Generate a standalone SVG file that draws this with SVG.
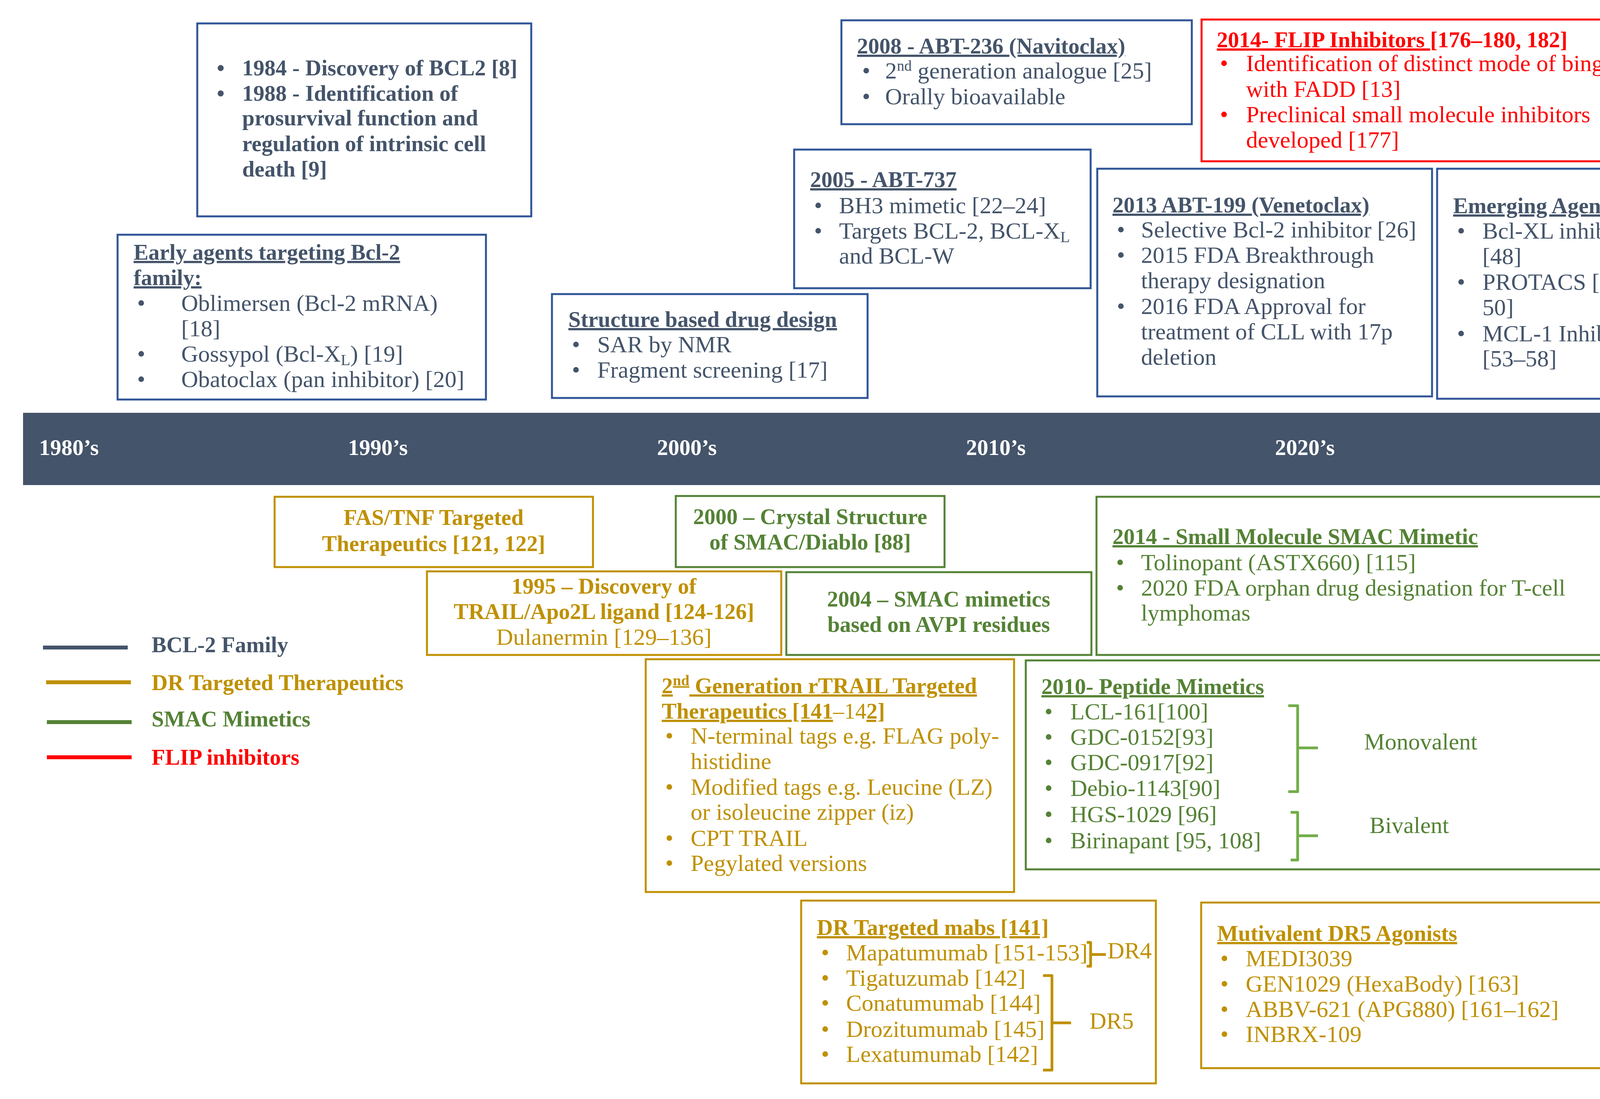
<svg xmlns="http://www.w3.org/2000/svg" width="4477" height="2814" viewBox="0 0 4477 2814">
<style>
text{font-family:"Liberation Serif","Times New Roman",serif;}
.b{font-weight:bold;font-size:57px;}
.r{font-weight:normal;font-size:60px;}
.u{text-decoration:underline;}
.blue{fill:#44546A;}
.gold{fill:#BF9000;}
.green{fill:#548235;}
.red{fill:#FF0000;}
.white{fill:#FFFFFF;}
.c{text-anchor:middle;}
.bx{fill:#FFFFFF;stroke-width:5;}
.bb{stroke:#2F5597;}
.bg{stroke:#BF9000;}
.bgr{stroke:#548235;}
.br{stroke:#FF0000;}
.brk{fill:none;stroke-width:7;stroke-linejoin:round;}
.leg{stroke-width:10;}
</style>
<rect x="0" y="0" width="4477" height="2814" fill="#FFFFFF"/>

<g id="box-1984">
<rect class="bx bb" x="505" y="60" width="855" height="494"/>
<g class="b blue">
<text x="555" y="193">•</text><text x="620" y="193">1984 - Discovery of BCL2 [8]</text>
<text x="555" y="258">•</text><text x="620" y="258">1988 - Identification of</text>
<text x="620" y="321">prosurvival function and</text>
<text x="620" y="387">regulation of intrinsic cell</text>
<text x="620" y="452">death [9]</text>
</g>
</g>

<g id="box-early">
<rect class="bx bb" x="301" y="601" width="943" height="422"/>
<text class="b blue u" x="342" y="665">Early agents targeting Bcl-2</text>
<text class="b blue u" x="342" y="730">family:</text>
<g class="r blue">
<text x="351" y="796">•</text><text x="464" y="796">Oblimersen (Bcl-2 mRNA)</text>
<text x="464" y="861">[18]</text>
<text x="351" y="926">•</text><text x="464" y="926">Gossypol (Bcl-X<tspan dy="9" font-size="40">L</tspan><tspan dy="-9">) [19]</tspan></text>
<text x="351" y="991">•</text><text x="464" y="991">Obatoclax (pan inhibitor) [20]</text>
</g>
</g>

<g id="box-structure">
<rect class="bx bb" x="1413" y="753" width="808" height="266"/>
<text class="b blue u" x="1455" y="837">Structure based drug design</text>
<g class="r blue">
<text x="1464" y="902">•</text><text x="1529" y="902">SAR by NMR</text>
<text x="1464" y="967">•</text><text x="1529" y="967">Fragment screening [17]</text>
</g>
</g>

<g id="box-2005">
<rect class="bx bb" x="2033" y="383" width="759" height="355"/>
<text class="b blue u" x="2074" y="479">2005 - ABT-737</text>
<g class="r blue">
<text x="2084" y="546">•</text><text x="2148" y="546">BH3 mimetic [22–24]</text>
<text x="2084" y="611">•</text><text x="2148" y="611">Targets BCL-2, BCL-X<tspan dy="9" font-size="40">L</tspan></text>
<text x="2148" y="675">and BCL-W</text>
</g>
</g>

<g id="box-2008">
<rect class="bx bb" x="2154" y="52" width="897" height="266"/>
<text class="b blue u" x="2194" y="137">2008 - ABT-236 (Navitoclax)</text>
<g class="r blue">
<text x="2207" y="201">•</text><text x="2266" y="201">2<tspan dy="-20" font-size="38">nd</tspan><tspan dy="20"> generation analogue [25]</tspan></text>
<text x="2207" y="267">•</text><text x="2266" y="267">Orally bioavailable</text>
</g>
</g>

<g id="box-flip">
<rect class="bx br" x="3076" y="50" width="1179" height="363"/>
<text class="b red" x="3115" y="121"><tspan class="u">2014- FLIP Inhibitors </tspan> [176–180, 182]</text>
<g class="r red">
<text x="3123" y="182">•</text><text x="3190" y="182">Identification of distinct mode of binging</text>
<text x="3190" y="248">with FADD [13]</text>
<text x="3123" y="313">•</text><text x="3190" y="313">Preclinical small molecule inhibitors</text>
<text x="3190" y="378">developed [177]</text>
</g>
</g>

<g id="box-2013">
<rect class="bx bb" x="2809" y="432" width="857" height="583"/>
<text class="b blue u" x="2848" y="544">2013 ABT-199 (Venetoclax)</text>
<g class="r blue">
<text x="2859" y="608">•</text><text x="2921" y="608">Selective Bcl-2 inhibitor [26]</text>
<text x="2859" y="673">•</text><text x="2921" y="673">2015 FDA Breakthrough</text>
<text x="2921" y="738">therapy designation</text>
<text x="2859" y="804">•</text><text x="2921" y="804">2016 FDA Approval for</text>
<text x="2921" y="869">treatment of CLL with 17p</text>
<text x="2921" y="934">deletion</text>
</g>
</g>

<g id="box-emerging">
<rect class="bx bb" x="3679" y="432" width="576" height="589"/>
<text class="b blue u" x="3720" y="546">Emerging Agents</text>
<g class="r blue">
<text x="3730" y="611">•</text><text x="3795" y="611">Bcl-XL inhibitors</text>
<text x="3795" y="676">[48]</text>
<text x="3730" y="742">•</text><text x="3795" y="742">PROTACS [49-</text>
<text x="3795" y="807">50]</text>
<text x="3730" y="874">•</text><text x="3795" y="874">MCL-1 Inhibitors</text>
<text x="3795" y="938">[53–58]</text>
</g>
</g>

<g id="timeline">
<polygon points="59,1057 4231,1057 4231,964 4440,1150 4231,1333 4231,1242 59,1242" fill="#44546A"/>
<g class="b white" font-size="56">
<text x="100" y="1165">1980’s</text>
<text x="891" y="1165">1990’s</text>
<text x="1682" y="1165">2000’s</text>
<text x="2473" y="1165">2010’s</text>
<text x="3264" y="1165">2020’s</text>
</g>
</g>

<g id="box-fas">
<rect class="bx bg" x="703" y="1272" width="815" height="180"/>
<text class="b gold c" x="1110" y="1344">FAS/TNF Targeted</text>
<text class="b gold c" x="1110" y="1411">Therapeutics [121, 122]</text>
</g>

<g id="box-1995">
<rect class="bx bg" x="1093" y="1463" width="907" height="214"/>
<text class="b gold c" x="1546" y="1520">1995 – Discovery of</text>
<text class="b gold c" x="1546" y="1585">TRAIL/Apo2L ligand [124-126]</text>
<text class="r gold c" x="1546" y="1651">Dulanermin [129–136]</text>
</g>

<g id="box-2000">
<rect class="bx bgr" x="1730" y="1270" width="688" height="182"/>
<text class="b green c" x="2074" y="1342">2000 – Crystal Structure</text>
<text class="b green c" x="2074" y="1407">of SMAC/Diablo [88]</text>
</g>

<g id="box-2004">
<rect class="bx bgr" x="2013" y="1465" width="781" height="212"/>
<text class="b green c" x="2403" y="1553">2004 – SMAC mimetics</text>
<text class="b green c" x="2403" y="1618">based on AVPI residues</text>
</g>

<g id="box-smac2014">
<rect class="bx bgr" x="2807" y="1272" width="1379" height="405"/>
<text class="b green u" x="2848" y="1393">2014 - Small Molecule SMAC Mimetic</text>
<g class="r green">
<text x="2857" y="1460">•</text><text x="2921" y="1460">Tolinopant (ASTX660) [115]</text>
<text x="2857" y="1525">•</text><text x="2921" y="1525">2020 FDA orphan drug designation for T-cell</text>
<text x="2921" y="1589">lymphomas</text>
</g>
</g>

<g id="box-peptide">
<rect class="bx bgr" x="2626" y="1691" width="1560" height="535"/>
<text class="b green u" x="2666" y="1777">2010- Peptide Mimetics</text>
<g class="r green">
<text x="2674" y="1842">•</text><text x="2740" y="1842">LCL-161[100]</text>
<text x="2674" y="1907">•</text><text x="2740" y="1907">GDC-0152[93]</text>
<text x="2674" y="1972">•</text><text x="2740" y="1972">GDC-0917[92]</text>
<text x="2674" y="2038">•</text><text x="2740" y="2038">Debio-1143[90]</text>
<text x="2674" y="2105">•</text><text x="2740" y="2105">HGS-1029 [96]</text>
<text x="2674" y="2172">•</text><text x="2740" y="2172">Birinapant [95, 108]</text>
<text x="3492" y="1919">Monovalent</text>
<text x="3506" y="2133">Bivalent</text>
</g>
</g>

<g id="box-rtrail">
<rect class="bx bg" x="1653" y="1688" width="943" height="596"/>
<text class="b gold u" x="1694" y="1775">2<tspan dy="-20" font-size="38">nd</tspan><tspan dy="20"> Generation rTRAIL Targeted</tspan></text>
<text class="b gold" x="1694" y="1840"><tspan class="u">Therapeutics [141</tspan><tspan font-weight="normal">–14</tspan><tspan class="u">2]</tspan></text>
<g class="r gold">
<text x="1703" y="1904">•</text><text x="1768" y="1904">N-terminal tags e.g. FLAG poly-</text>
<text x="1768" y="1969">histidine</text>
<text x="1703" y="2035">•</text><text x="1768" y="2035">Modified tags e.g. Leucine (LZ)</text>
<text x="1768" y="2099">or isoleucine zipper (iz)</text>
<text x="1703" y="2166">•</text><text x="1768" y="2166">CPT TRAIL</text>
<text x="1703" y="2230">•</text><text x="1768" y="2230">Pegylated versions</text>
</g>
</g>

<g id="box-mabs">
<rect class="bx bg" x="2051" y="2306" width="908" height="468"/>
<text class="b gold u" x="2091" y="2394">DR Targeted mabs [141]</text>
<g class="r gold">
<text x="2102" y="2459">•</text><text x="2166" y="2459">Mapatumumab [151-153]</text>
<text x="2102" y="2524">•</text><text x="2166" y="2524">Tigatuzumab [142]</text>
<text x="2102" y="2588">•</text><text x="2166" y="2588">Conatumumab [144]</text>
<text x="2102" y="2655">•</text><text x="2166" y="2655">Drozitumumab [145]</text>
<text x="2102" y="2719">•</text><text x="2166" y="2719">Lexatumumab [142]</text>
<text x="2835" y="2454">DR4</text>
<text x="2789" y="2634">DR5</text>
</g>
</g>

<g id="box-multivalent">
<rect class="bx bg" x="3075" y="2311" width="1111" height="424"/>
<text class="b gold u" x="3116" y="2409">Mutivalent DR5 Agonists</text>
<g class="r gold">
<text x="3124" y="2474">•</text><text x="3189" y="2474">MEDI3039</text>
<text x="3124" y="2539">•</text><text x="3189" y="2539">GEN1029 (HexaBody) [163]</text>
<text x="3124" y="2604">•</text><text x="3189" y="2604">ABBV-621 (APG880) [161–162]</text>
<text x="3124" y="2668">•</text><text x="3189" y="2668">INBRX-109</text>
</g>
</g>

<g id="connectors">
<path class="brk" stroke="#70AD47" d="M3298,1807 H3322 V2027 H3298 M3322,1915 H3374"/>
<path class="brk" stroke="#70AD47" d="M3304,2080 H3322 V2202 H3304 M3322,2140 H3374"/>
<path class="brk" stroke="#BF9000" d="M2782,2413 H2792 V2474 H2782 M2792,2444 H2831"/>
<path class="brk" stroke="#BF9000" d="M2670,2498 H2693 V2740 H2670 M2693,2619 H2742"/>
</g>

<g id="legend">
<line class="leg" x1="110" y1="1658" x2="327" y2="1658" stroke="#44546A"/>
<line class="leg" x1="118" y1="1747" x2="335" y2="1747" stroke="#BF9000"/>
<line class="leg" x1="120" y1="1849" x2="337" y2="1849" stroke="#548235"/>
<line class="leg" x1="120" y1="1939" x2="337" y2="1939" stroke="#FF0000"/>
<text class="b blue" x="388" y="1670">BCL-2 Family</text>
<text class="b gold" x="388" y="1767">DR Targeted Therapeutics</text>
<text class="b green" x="388" y="1860">SMAC Mimetics</text>
<text class="b red" x="388" y="1958">FLIP inhibitors</text>
</g>
</svg>
